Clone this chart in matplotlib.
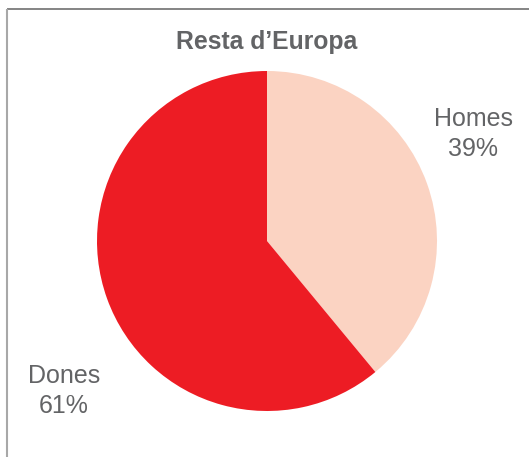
import matplotlib
matplotlib.use("Agg")
from matplotlib import pyplot as plt

title = "Resta d\u2019Europa"
categories = ["Homes", "Dones"]
shares = [39, 61]
colors = ["#fbd3c2", "#ed1c24"]
text_grey = "#636466"

plt.rcParams['font.family'] = ['Liberation Sans', 'DejaVu Sans']

fig = plt.figure(figsize=(5.29, 4.57), dpi=100)
ax = fig.add_axes([0, 0, 1, 1])

# frame (top and left only visible)
ax.plot([6.5, 529], [448, 448], color="#707070", lw=1.2, solid_capstyle='butt')
ax.plot([6.5, 6.5], [0, 448], color="#a8a8a8", lw=1.5, solid_capstyle='butt')

ax.pie(shares, colors=colors, startangle=90, counterclock=False,
       center=(267, 216), radius=170, frame=True,
       wedgeprops={'linewidth': 0})
ax.set_xlim(0, 529)
ax.set_ylim(0, 457)
ax.set_aspect('equal')
ax.axis('off')

ax.text(267, 415, title, ha='center', va='center', fontsize=17.8,
        fontweight='bold', color=text_grey)

label_pos = {"Homes": (473, 323), "Dones": (64, 66)}
for name, val in zip(categories, shares):
    x, y = label_pos[name]
    ax.text(x, y, f"{name}\n{val}%", ha='center', va='center',
            fontsize=18, color=text_grey, linespacing=1.3)

fig.savefig("out.png", dpi=100)
